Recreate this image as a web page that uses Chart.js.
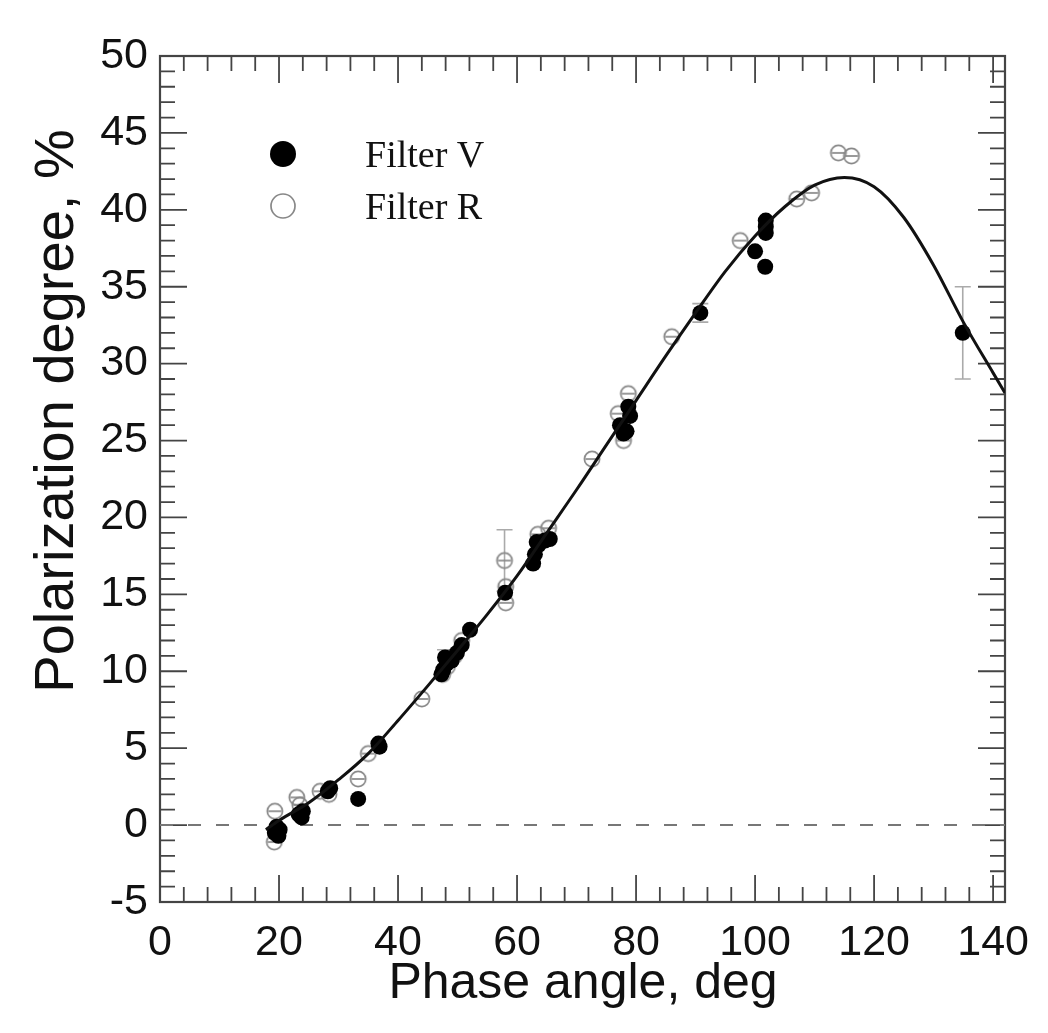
<!DOCTYPE html>
<html>
<head>
<meta charset="utf-8">
<script src="https://cdn.jsdelivr.net/npm/chart.js@4.4.0/dist/chart.umd.min.js"></script>
<style>
body { margin: 0; background: #fff; }
</style>
</head>
<body>
<canvas id="myChart" width="1048" height="1033"></canvas>
<script>
// phase angle (deg), polarization (%)
const filterV = [
    [19.3, -0.5], [19.6, -0.1], [19.9, -0.7], [20.1, -0.3],
    [23.3, 0.7], [23.8, 0.5], [24.0, 0.9],
    [28.2, 2.2], [28.6, 2.4],
    [33.3, 1.7],
    [36.7, 5.3], [36.9, 5.1],
    [47.3, 9.8], [47.6, 10.1], [47.9, 10.9], [48.2, 10.5], [49.0, 10.7], [49.9, 11.2], [50.7, 11.7], [52.1, 12.7],
    [58.0, 15.1],
    [62.7, 17.0], [63.0, 17.6], [63.3, 18.4], [63.6, 18.2], [64.7, 18.5], [65.5, 18.6],
    [77.3, 26.0], [77.9, 25.45], [78.4, 25.6], [78.7, 27.2], [79.0, 26.6],
    [90.8, 33.3],
    [100.0, 37.3], [101.7, 36.3], [101.8, 38.5], [101.8, 38.9], [101.8, 39.3],
    [134.9, 32.0]
];
const filterR = [
    [19.3, 0.9], [19.2, -1.1], [19.6, -0.6],
    [23.0, 1.8], [23.5, 1.3],
    [26.9, 2.2], [28.4, 2.0],
    [33.3, 3.0],
    [35.0, 4.65],
    [44.0, 8.2],
    [47.5, 9.8], [48.3, 10.3], [49.5, 11.0], [50.7, 12.0],
    [57.9, 17.2], [58.1, 15.5], [58.1, 14.45],
    [63.5, 18.9], [65.3, 19.3],
    [72.6, 23.8],
    [77.0, 26.75], [77.9, 25.0], [78.7, 28.05],
    [86.0, 31.75],
    [97.5, 38.0],
    [107.0, 40.7], [109.5, 41.1],
    [114.0, 43.7], [116.2, 43.5]
];
// error bars: x, y, +/- err
const errV = [[47.9, 10.9, 0.5], [90.8, 33.3, 0.6], [134.9, 32.0, 3.0]];
const errR = [[57.9, 17.2, 2.0]];
// fitted curve
const fitCurve = [
    [17.8, -0.3], [20, 0.3], [25, 1.45], [30, 2.95], [35, 4.65], [40, 6.8], [45, 9.05],
    [50, 11.35], [55, 13.7], [60, 16.2], [65, 19.0], [70, 21.8], [75, 24.7], [80, 27.6],
    [85, 30.5], [90, 33.3], [95, 36.0], [100, 38.3], [105, 40.2], [110, 41.6], [115, 42.1],
    [120, 41.5], [125, 39.5], [130, 36.4], [135, 32.7], [140, 29.4], [142, 28.1]
];
const zeroLine = [[0, 0], [142, 0]];
const xRange = [0, 142];
const yRange = [-5, 50];

const toXY = arr => arr.map(p => ({ x: p[0], y: p[1] }));

function ringIcon(r, withBar) {
    const s = Math.ceil(r * 2 + 4);
    const c = document.createElement('canvas');
    c.width = s; c.height = s;
    const g = c.getContext('2d');
    g.strokeStyle = '#888';
    g.lineWidth = 1.7;
    g.beginPath();
    g.arc(s / 2, s / 2, r, 0, Math.PI * 2);
    g.stroke();
    if (withBar) {
        g.beginPath();
        g.moveTo(s / 2 - r + 1, s / 2);
        g.lineTo(s / 2 + r - 1, s / 2);
        g.stroke();
    }
    return c;
}
const openPoint = ringIcon(7.6, true);
const legendRing = ringIcon(12, false);

const frame = {
    id: 'frame',
    beforeDatasetsDraw(chart) {
        const { ctx, chartArea: a, scales: { x, y } } = chart;
        ctx.save();
        ctx.strokeStyle = '#444';
        ctx.lineWidth = 1.8;
        ctx.beginPath();
        for (let v = 0; v <= xRange[1]; v += 4) {
            const px = x.getPixelForValue(v);
            const len = v % 20 === 0 ? 27 : 15;
            ctx.moveTo(px, a.bottom); ctx.lineTo(px, a.bottom - len);
            ctx.moveTo(px, a.top); ctx.lineTo(px, a.top + len);
        }
        for (let v = yRange[0]; v <= yRange[1]; v++) {
            const py = y.getPixelForValue(v);
            const len = v % 5 === 0 ? 27 : 15;
            ctx.moveTo(a.left, py); ctx.lineTo(a.left + len, py);
            ctx.moveTo(a.right, py); ctx.lineTo(a.right - len, py);
        }
        ctx.stroke();
        ctx.lineWidth = 2.2;
        ctx.strokeRect(a.left, a.top, a.right - a.left, a.bottom - a.top);

        // error bars
        ctx.strokeStyle = '#aaa';
        ctx.lineWidth = 1.6;
        ctx.beginPath();
        errV.concat(errR).forEach(([ex, ey, e]) => {
            const px = x.getPixelForValue(ex);
            const y1 = y.getPixelForValue(ey - e), y2 = y.getPixelForValue(ey + e);
            ctx.moveTo(px, y1); ctx.lineTo(px, y2);
            ctx.moveTo(px - 8, y1); ctx.lineTo(px + 8, y1);
            ctx.moveTo(px - 8, y2); ctx.lineTo(px + 8, y2);
        });
        ctx.stroke();
        ctx.restore();
    },
    afterDraw(chart) {
        const { ctx } = chart;
        ctx.save();
        // legend
        ctx.fillStyle = '#000';
        ctx.beginPath();
        ctx.arc(283, 154, 13, 0, Math.PI * 2);
        ctx.fill();
        ctx.drawImage(legendRing, 283 - legendRing.width / 2, 206 - legendRing.height / 2);
        ctx.fillStyle = '#111';
        ctx.font = '38px "Liberation Serif"';
        ctx.textBaseline = 'middle';
        ctx.fillText(chart.data.datasets[0].label, 365, 157);
        ctx.fillText(chart.data.datasets[1].label, 365, 209);
        // axis titles
        ctx.font = '50px "Liberation Sans"';
        ctx.textAlign = 'center';
        ctx.fillText('Phase angle, deg', 583, 984);
        ctx.translate(58, 411);
        ctx.rotate(-Math.PI / 2);
        ctx.font = '56px "Liberation Sans"';
        ctx.fillText('Polarization degree, %', 0, 0);
        ctx.restore();
    }
};

new Chart(document.getElementById('myChart'), {
    type: 'scatter',
    data: {
        datasets: [{
            label: 'Filter V',
            data: toXY(filterV),
            pointStyle: 'circle',
            pointRadius: 8,
            backgroundColor: '#000',
            borderColor: '#000',
            borderWidth: 0,
            order: 2
        },
        {
            label: 'Filter R',
            data: toXY(filterR),
            pointStyle: openPoint,
            order: 3
        },
        {
            label: 'fit',
            data: toXY(fitCurve),
            showLine: true,
            pointRadius: 0,
            borderColor: '#111',
            borderWidth: 3,
            cubicInterpolationMode: 'monotone',
            order: 1
        },
        {
            label: 'zero',
            data: toXY(zeroLine),
            showLine: true,
            pointRadius: 0,
            borderColor: '#777',
            borderWidth: 2,
            borderDash: [13, 15],
            order: 4
        }]
    },
    options: {
        responsive: false,
        animation: false,
        layout: { padding: { top: 56, right: 43 } },
        plugins: { legend: { display: false }, tooltip: { enabled: false } },
        scales: {
            x: {
                min: xRange[0],
                max: xRange[1],
                grid: { display: false, drawTicks: false },
                border: { display: false },
                ticks: {
                    stepSize: 20,
                    includeBounds: false,
                    padding: 15,
                    color: '#111',
                    font: { family: 'Liberation Sans', size: 43 }
                },
                afterFit: s => { s.height = 131; }
            },
            y: {
                min: yRange[0],
                max: yRange[1],
                grid: { display: false, drawTicks: false },
                border: { display: false },
                ticks: {
                    stepSize: 5,
                    padding: 12,
                    color: '#111',
                    font: { family: 'Liberation Sans', size: 43 }
                },
                afterFit: s => { s.width = 160; }
            }
        }
    },
    plugins: [frame]
});
</script>
</body>
</html>
